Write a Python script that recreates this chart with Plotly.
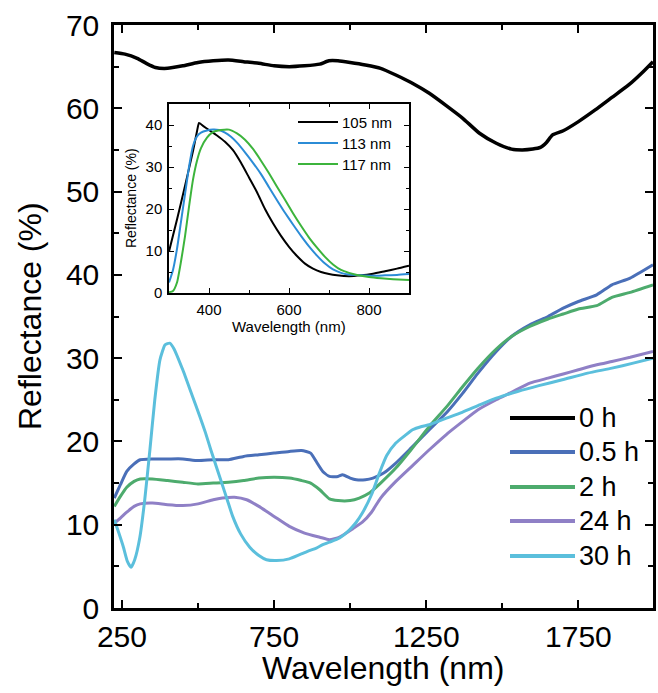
import plotly.graph_objects as go

# main panel: reflectance vs wavelength for each etching time
series_names = ['0 h', '0.5 h', '2 h', '24 h', '30 h']
series_colors = ['#000000', '#4a6fb8', '#4dab6d', '#8f80c6', '#5bbfdc']

wl_0h = [225, 260, 300, 330, 360, 400, 450, 500, 550, 600, 650, 700, 750, 800, 850, 900, 930, 960,
         1000, 1050, 1100, 1150, 1200, 1260, 1320, 1370, 1425, 1480, 1530, 1565, 1600, 1625, 1645,
         1665, 1700, 1750, 1805, 1860, 1915, 1960, 1995]
refl_0h = [66.7, 66.5, 66.0, 65.4, 64.9, 64.8, 65.1, 65.5, 65.7, 65.8, 65.6, 65.4, 65.1, 65.0, 65.1,
           65.3, 65.7, 65.7, 65.5, 65.2, 64.8, 64.0, 63.1, 61.8, 60.2, 58.8, 57.0, 55.8, 55.1, 55.0,
           55.1, 55.3, 55.9, 56.8, 57.3, 58.4, 59.8, 61.3, 62.8, 64.3, 65.6]

wl_05h = [225, 245, 266, 290, 310, 350, 400, 450, 500, 550, 600, 650, 700, 750, 800, 840, 870, 890,
          910, 932, 960, 975, 1000, 1020, 1050, 1075, 1110, 1150, 1200, 1260, 1320, 1370, 1420, 1480,
          1530, 1590, 1650, 1700, 1750, 1810, 1860, 1920, 1995]
refl_05h = [13.2, 14.8, 16.4, 17.3, 17.8, 17.9, 17.9, 17.9, 17.7, 17.8, 17.8, 18.2, 18.4, 18.6, 18.8,
            18.9, 18.6, 17.5, 16.4, 15.8, 15.8, 16.0, 15.6, 15.4, 15.4, 15.6, 16.2, 17.4, 19.2, 21.4,
            23.6, 25.8, 28.2, 30.8, 32.6, 34.0, 35.0, 36.0, 36.8, 37.6, 38.8, 39.6, 41.2]

wl_2h = [225, 245, 266, 290, 310, 350, 400, 450, 500, 550, 600, 650, 700, 750, 800, 840, 870, 900,
         932, 960, 1000, 1030, 1063, 1100, 1150, 1200, 1260, 1320, 1370, 1420, 1480, 1530, 1590, 1650,
         1700, 1750, 1810, 1860, 1920, 1995]
refl_2h = [12.2, 13.4, 14.5, 15.2, 15.5, 15.5, 15.3, 15.1, 14.9, 15.0, 15.1, 15.3, 15.6, 15.7, 15.6,
           15.3, 15.0, 14.2, 13.1, 12.9, 12.9, 13.2, 13.8, 15.0, 16.8, 19.0, 21.8, 24.3, 26.6, 28.8,
           31.1, 32.6, 33.8, 34.7, 35.3, 35.9, 36.3, 37.3, 37.9, 38.8]

wl_24h = [225, 245, 266, 290, 310, 350, 400, 450, 500, 550, 580, 620, 660, 700, 750, 800, 850, 900,
          932, 965, 1008, 1040, 1070, 1100, 1150, 1205, 1260, 1315, 1370, 1420, 1480, 1530, 1590,
          1650, 1700, 1750, 1810, 1860, 1920, 1995]
refl_24h = [10.2, 10.8, 11.5, 12.2, 12.5, 12.6, 12.4, 12.3, 12.5, 13.0, 13.2, 13.3, 13.0, 12.2, 11.0,
            9.8, 9.0, 8.5, 8.2, 8.5, 9.5, 10.3, 11.5, 13.2, 15.2, 17.1, 19.0, 20.8, 22.4, 23.8, 25.0,
            25.9, 27.0, 27.6, 28.1, 28.6, 29.2, 29.6, 30.1, 30.8]

wl_30h = [225, 240, 255, 268, 280, 292, 309, 325, 342, 358, 375, 392, 407, 420, 450, 480, 506, 525,
          542, 560, 578, 596, 614, 640, 670, 700, 725, 758, 800, 834, 860, 889, 910, 932, 965, 998,
          1020, 1040, 1070, 1096, 1120, 1150, 1180, 1205, 1235, 1260, 1310, 1368, 1420, 1480, 1550,
          1620, 1697, 1780, 1860, 1930, 1995]
refl_30h = [10.6, 9.0, 7.3, 5.6, 4.9, 5.8, 8.5, 13.0, 19.0, 25.0, 29.8, 31.6, 31.8, 31.2, 28.6, 25.6,
            23.0, 21.0, 19.0, 17.0, 15.0, 13.0, 11.0, 8.9, 7.3, 6.3, 5.8, 5.7, 5.9, 6.4, 6.8, 7.2, 7.6,
            7.9, 8.4, 9.4, 10.3, 11.4, 13.6, 16.2, 18.3, 19.8, 20.7, 21.4, 21.8, 22.0, 22.7, 23.5, 24.3,
            25.2, 26.0, 26.7, 27.4, 28.2, 28.8, 29.4, 30.0]

# inset: reflectance for three film thicknesses
inset_names = ['105 nm', '113 nm', '117 nm']
inset_colors = ['#000000', '#2b8cd6', '#3cb43c']

wl_105 = [300, 320, 340, 360, 370, 375, 385, 400, 420, 440, 460, 480, 500, 520, 540, 560, 580, 600,
          620, 640, 660, 680, 700, 720, 750, 780, 810, 840, 870, 900]
refl_105 = [9.9, 17.5, 25.5, 33.8, 38.5, 40.5, 39.8, 38.8, 37.5, 36.0, 34.0, 31.0, 27.5, 24.0, 20.0,
            16.6, 13.6, 11.0, 8.8, 7.0, 5.8, 5.0, 4.5, 4.2, 4.0, 4.2, 4.6, 5.2, 5.8, 6.5]

wl_113 = [300, 310, 320, 330, 340, 350, 360, 370, 380, 395, 410, 425, 440, 455, 470, 490, 510, 530,
          550, 570, 590, 610, 630, 650, 670, 690, 710, 730, 750, 780, 810, 840, 870, 900]
refl_113 = [2.5, 5.5, 10.5, 17.0, 23.5, 30.0, 35.0, 37.3, 38.2, 38.7, 38.9, 38.8, 38.2, 37.2, 35.8,
            33.5, 31.0, 28.3, 25.2, 22.1, 19.1, 16.3, 13.6, 11.1, 8.9, 7.0, 5.6, 4.8, 4.4, 4.2, 4.1,
            4.2, 4.3, 4.5]

wl_117 = [300, 310, 320, 330, 340, 350, 360, 370, 380, 395, 410, 430, 450, 470, 490, 510, 530, 550,
          570, 590, 610, 630, 650, 670, 690, 710, 730, 750, 770, 800, 830, 860, 900]
refl_117 = [0.2, 0.5, 2.5, 7.5, 13.5, 20.5, 27.0, 31.5, 34.5, 37.0, 38.3, 38.8, 38.9, 38.0, 36.5,
            34.3, 31.5, 28.5, 25.3, 22.2, 19.0, 16.0, 13.2, 10.8, 8.6, 6.8, 5.5, 4.8, 4.3, 3.8, 3.5,
            3.3, 3.1]

main_x = [wl_0h, wl_05h, wl_2h, wl_24h, wl_30h]
main_y = [refl_0h, refl_05h, refl_2h, refl_24h, refl_30h]
main_widths = [3.5, 3, 3, 3, 3]
inset_x = [wl_105, wl_113, wl_117]
inset_y = [refl_105, refl_113, refl_117]

W, H = 658, 693
L, R, T, B = 114, 5, 25, 85
pw, ph = W - L - R, H - T - B


def px(x):
    return (x - L) / pw


def py(y):
    return (H - B - y) / ph


font = 'Liberation Sans, Arial, sans-serif'

fig = go.Figure()

for xs, ys, name, col, lw in zip(main_x, main_y, series_names, series_colors, main_widths):
    fig.add_trace(go.Scatter(x=xs, y=ys, name=name, mode='lines',
                             line=dict(color=col, width=lw, shape='spline', smoothing=0.5),
                             xaxis='x', yaxis='y', showlegend=False))

for xs, ys, name, col in zip(inset_x, inset_y, inset_names, inset_colors):
    fig.add_trace(go.Scatter(x=xs, y=ys, name=name, mode='lines',
                             line=dict(color=col, width=2, shape='spline', smoothing=0.5),
                             xaxis='x2', yaxis='y2', showlegend=False))

# hand-drawn legends (long line samples like the original)
shapes = []
annotations = []
main_rows = [418, 452, 487, 521, 556]
for name, col, yy in zip(series_names, series_colors, main_rows):
    shapes.append(dict(type='line', xref='paper', yref='paper', x0=px(510), x1=px(575),
                       y0=py(yy), y1=py(yy), line=dict(color=col, width=4)))
    annotations.append(dict(text=name, xref='paper', yref='paper', x=px(577), y=py(yy),
                            xanchor='left', yanchor='middle', showarrow=False,
                            font=dict(size=27, color='black', family=font)))

inset_rows = [122, 143, 164]
for name, col, yy in zip(inset_names, inset_colors, inset_rows):
    shapes.append(dict(type='line', xref='paper', yref='paper', x0=px(298), x1=px(338),
                       y0=py(yy), y1=py(yy), line=dict(color=col, width=2)))
    annotations.append(dict(text=name, xref='paper', yref='paper', x=px(340), y=py(yy),
                            xanchor='left', yanchor='middle', showarrow=False,
                            font=dict(size=15, color='black', family=font)))

# axis titles placed by hand
annotations.append(dict(text='Wavelength (nm)', xref='paper', yref='paper', x=px(383), y=py(668),
                        xanchor='center', yanchor='middle', showarrow=False,
                        font=dict(size=32, color='black', family=font)))
annotations.append(dict(text='Reflectance (%)', xref='paper', yref='paper', x=px(30), y=py(316),
                        xanchor='center', yanchor='middle', showarrow=False, textangle=-90,
                        font=dict(size=32, color='black', family=font)))
annotations.append(dict(text='Wavelength (nm)', xref='paper', yref='paper', x=px(289), y=py(327),
                        xanchor='center', yanchor='middle', showarrow=False,
                        font=dict(size=15, color='black', family=font)))
annotations.append(dict(text='Reflectance (%)', xref='paper', yref='paper', x=px(131), y=py(198),
                        xanchor='center', yanchor='middle', showarrow=False, textangle=-90,
                        font=dict(size=14, color='black', family=font)))

fig.update_layout(
    width=W, height=H,
    margin=dict(l=L, r=R, t=T, b=B, autoexpand=False),
    paper_bgcolor='white', plot_bgcolor='rgba(0,0,0,0)',
    font=dict(family=font, color='black'),
    shapes=shapes, annotations=annotations,
    xaxis=dict(
        domain=[0, 1], anchor='y', range=[224, 1995], automargin=False,
        tickmode='array', tickvals=[250, 750, 1250, 1750],
        ticks='inside', ticklen=8, tickwidth=2, tickcolor='black',
        minor=dict(tickvals=[500, 1000, 1500], ticks='inside', ticklen=5, tickwidth=2, tickcolor='black'),
        showline=True, linewidth=2.5, linecolor='black', mirror='ticks',
        showgrid=False, zeroline=False,
        tickfont=dict(size=30), ticklabelstandoff=0),
    yaxis=dict(
        domain=[0, 1], anchor='x', range=[0, 70], automargin=False,
        tickmode='array', tickvals=[0, 10, 20, 30, 40, 50, 60, 70],
        ticks='inside', ticklen=8, tickwidth=2, tickcolor='black',
        minor=dict(tickvals=[5, 15, 25, 35, 45, 55, 65], ticks='inside', ticklen=5, tickwidth=2,
                   tickcolor='black'),
        showline=True, linewidth=2.5, linecolor='black', mirror='ticks',
        showgrid=False, zeroline=False,
        tickfont=dict(size=30), ticklabelstandoff=6),
    xaxis2=dict(
        domain=[px(169), px(409)], anchor='y2', range=[300, 900], automargin=False,
        tickmode='array', tickvals=[400, 600, 800],
        ticks='inside', ticklen=5, tickwidth=1.2, tickcolor='black',
        minor=dict(tickvals=[500, 700], ticks='inside', ticklen=3, tickwidth=1.2, tickcolor='black'),
        showline=True, linewidth=1.5, linecolor='black', mirror='ticks',
        showgrid=False, zeroline=False,
        tickfont=dict(size=15), ticklabelstandoff=2),
    yaxis2=dict(
        domain=[py(293), py(104)], anchor='x2', range=[0, 45], automargin=False,
        tickmode='array', tickvals=[0, 10, 20, 30, 40],
        ticks='inside', ticklen=5, tickwidth=1.2, tickcolor='black',
        minor=dict(tickvals=[5, 15, 25, 35], ticks='inside', ticklen=3, tickwidth=1.2, tickcolor='black'),
        showline=True, linewidth=1.5, linecolor='black', mirror='ticks',
        showgrid=False, zeroline=False,
        tickfont=dict(size=15), ticklabelstandoff=2),
)

# the page's default body margin would shift the figure by 8 px
fig.write_html("out.html", config={'displayModeBar': False},
               post_script="document.body.style.margin='0';")
